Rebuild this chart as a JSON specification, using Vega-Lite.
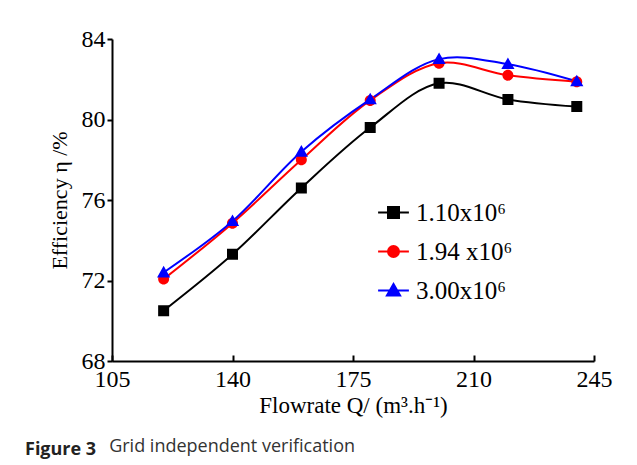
{
  "$schema": "https://vega.github.io/schema/vega-lite/v6.json",
  "width": 482,
  "height": 322,
  "autosize": "none",
  "padding": {"left": 112, "top": 39, "right": 43, "bottom": 104},
  "background": "white",
  "config": {
    "view": {"stroke": null},
    "font": "Liberation Serif"
  },
  "title": {
    "text": "Figure 3",
    "subtitle": "\u200c\u00a0\u00a0\u00a0\u00a0\u00a0\u00a0\u00a0\u00a0\u00a0\u00a0\u00a0\u00a0\u00a0\u00a0\u00a0\u00a0\u00a0\u00a0Grid independent verification",
    "orient": "bottom",
    "anchor": "start",
    "frame": "group",
    "dx": -87,
    "offset": 24,
    "font": "Open Sans",
    "fontSize": 18,
    "fontWeight": "bold",
    "color": "#222",
    "subtitleFont": "Open Sans",
    "subtitleFontSize": 18,
    "subtitleFontWeight": "normal",
    "subtitleColor": "#333",
    "subtitlePadding": -21
  },
  "data": {
    "values": [
      {"Q": 120, "eff": 70.5, "grid": "1.10x10⁶"},
      {"Q": 140, "eff": 73.3, "grid": "1.10x10⁶"},
      {"Q": 160, "eff": 76.6, "grid": "1.10x10⁶"},
      {"Q": 180, "eff": 79.6, "grid": "1.10x10⁶"},
      {"Q": 200, "eff": 81.8, "grid": "1.10x10⁶"},
      {"Q": 220, "eff": 81.0, "grid": "1.10x10⁶"},
      {"Q": 240, "eff": 80.64, "grid": "1.10x10⁶"},
      {"Q": 120, "eff": 72.07, "grid": "1.94 x10⁶"},
      {"Q": 140, "eff": 74.85, "grid": "1.94 x10⁶"},
      {"Q": 160, "eff": 78.0, "grid": "1.94 x10⁶"},
      {"Q": 180, "eff": 80.95, "grid": "1.94 x10⁶"},
      {"Q": 200, "eff": 82.8, "grid": "1.94 x10⁶"},
      {"Q": 220, "eff": 82.2, "grid": "1.94 x10⁶"},
      {"Q": 240, "eff": 81.88, "grid": "1.94 x10⁶"},
      {"Q": 120, "eff": 72.4, "grid": "3.00x10⁶"},
      {"Q": 140, "eff": 74.95, "grid": "3.00x10⁶"},
      {"Q": 160, "eff": 78.4, "grid": "3.00x10⁶"},
      {"Q": 180, "eff": 81.0, "grid": "3.00x10⁶"},
      {"Q": 200, "eff": 83.0, "grid": "3.00x10⁶"},
      {"Q": 220, "eff": 82.75, "grid": "3.00x10⁶"},
      {"Q": 240, "eff": 81.9, "grid": "3.00x10⁶"}
    ]
  },
  "encoding": {
    "x": {
      "field": "Q",
      "type": "quantitative",
      "scale": {"domain": [105, 245], "nice": false, "zero": false},
      "axis": {
        "values": [105, 140, 175, 210, 245],
        "title": "Flowrate Q/ (m³.h⁻¹)",
        "grid": false,
        "domainColor": "black",
        "domainWidth": 2,
        "tickColor": "black",
        "tickWidth": 2,
        "tickSize": -6,
        "labelPadding": 12,
        "labelFont": "Liberation Serif",
        "labelFontSize": 24,
        "labelColor": "black",
        "labelFlush": false,
        "titleFont": "Liberation Serif",
        "titleFontSize": 23,
        "titleFontWeight": "normal",
        "titleColor": "black",
        "titlePadding": 3
      }
    },
    "y": {
      "field": "eff",
      "type": "quantitative",
      "scale": {"domain": [68, 84], "nice": false, "zero": false},
      "axis": {
        "values": [68, 72, 76, 80, 84],
        "title": "Efficiency η /%",
        "grid": false,
        "domainColor": "black",
        "domainWidth": 2,
        "tickColor": "black",
        "tickWidth": 2,
        "tickSize": 5,
        "labelPadding": 2,
        "labelFont": "Liberation Serif",
        "labelFontSize": 24,
        "labelColor": "black",
        "labelFlush": false,
        "titleFont": "Liberation Serif",
        "titleFontSize": 22,
        "titleFontWeight": "normal",
        "titleColor": "black",
        "titlePadding": 10
      }
    },
    "color": {
      "field": "grid",
      "type": "nominal",
      "scale": {
        "domain": ["1.10x10⁶", "1.94 x10⁶", "3.00x10⁶"],
        "range": ["#000000", "#ff0000", "#0000ff"]
      },
      "legend": {
        "title": null,
        "orient": "none",
        "legendX": 269,
        "legendY": 161,
        "symbolSize": 121,
        "symbolStrokeWidth": 2,
        "symbolStrokeColor": {"expr": "scale('color', datum.value)"},
        "symbolFillColor": {"expr": "scale('color', datum.value)"},
        "labelFont": "Liberation Serif",
        "labelFontSize": 25,
        "labelColor": "black",
        "labelOffset": 10,
        "rowPadding": 13
      }
    }
  },
  "layer": [
    {
      "mark": {"type": "line", "interpolate": "catmull-rom", "strokeWidth": 2},
      "encoding": {}
    },
    {
      "mark": {"type": "point", "filled": true, "opacity": 1, "size": 121},
      "encoding": {
        "shape": {
          "field": "grid",
          "type": "nominal",
          "scale": {
            "domain": ["1.10x10⁶", "1.94 x10⁶", "3.00x10⁶"],
            "range": [
              "M-2.8,0H2.8M-1,-1H1V1H-1Z",
              "M-2.8,0H2.8M-1,0A1,1 0 1,1 1,0A1,1 0 1,1 -1,0Z",
              "M-2.8,0H2.8M0,-1.2L1.2,0.9H-1.2Z"
            ]
          },
          "legend": null
        }
      }
    }
  ]
}
